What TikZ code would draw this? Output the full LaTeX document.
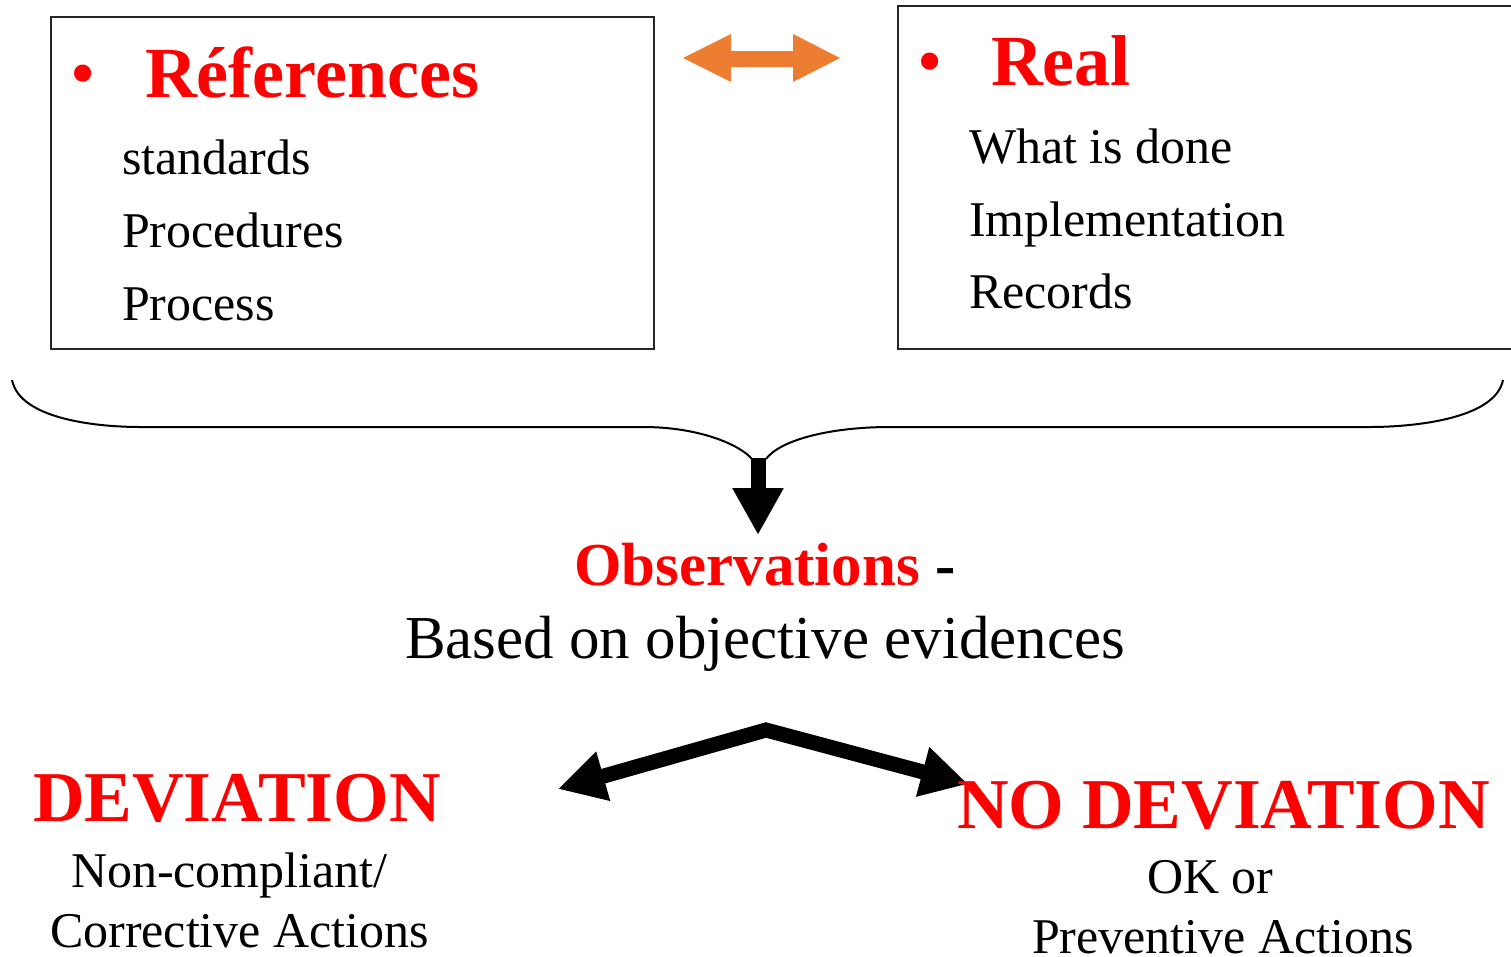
\documentclass[tikz,border=0pt]{standalone}
\usepackage{fontspec}
\setmainfont{Liberation Serif}
\usetikzlibrary{arrows.meta}
\definecolor{aorange}{HTML}{ED7D31}
\definecolor{ared}{HTML}{FF0000}
\tikzset{
  txt/.style={inner sep=0pt, outer sep=0pt, anchor=base west},
  head/.style={txt, text=ared, font=\fontsize{72}{72}\selectfont\bfseries},
  item/.style={txt, font=\fontsize{50}{50}\selectfont},
  big/.style={txt, text=ared, font=\fontsize{71.5}{71.5}\selectfont\bfseries},
  bul/.style={inner sep=0pt, outer sep=0pt, anchor=base, text=ared, font=\fontsize{72}{72}\selectfont},
  boxline/.style={draw=black!85, line width=2pt},
  thick arrow/.style={line width=15pt, line join=miter},
}
\begin{document}
\begin{tikzpicture}[x=1pt,y=-1pt]
\useasboundingbox (0,0) rectangle (1511,956);
% boxes
\draw[boxline] (51,17) rectangle (654,349);
\draw[boxline] (898,6) rectangle (1530,349);
% left box text
\node[bul] (b1) at (83,97) {•};
\node[head] (ref) at (145,97) {Réferences};
\node[item] (s1) at (122,174) {standards};
\node[item] (s2) at (122,247) {Procedures};
\node[item] (s3) at (122,320) {Process};
% right box text
\node[bul] (b2) at (930,85) {•};
\node[head] (real) at (991,85) {Real};
\node[item] (r1) at (969,163) {What is done};
\node[item] (r2) at (969,236) {Implementation};
\node[item] (r3) at (969,308) {Records};
% orange double arrow
\coordinate (oL) at (683,58);
\coordinate (oR) at (840,58);
\fill[aorange] (oL) -- (731,34) -- (731,51) -- (793,51) -- (793,34) -- (oR)
  -- (793,82) -- (793,67) -- (731,67) -- (731,82) -- cycle;
% brace
\coordinate (brL) at (12,380);
\coordinate (brR) at (1503,380);
\coordinate (brM1) at (752,459);
\coordinate (brM2) at (766,459);
\draw[line width=2pt] (brL) .. controls (20,420) and (100,427) .. (140,427)
  -- (643,427) .. controls (700,427) and (740,445) .. (brM1);
\draw[line width=2pt] (brR) .. controls (1495,420) and (1410,427) .. (1370,427)
  -- (890,427) .. controls (830,427) and (780,440) .. (brM2);
% down arrow
\coordinate (dA) at (758,458);
\coordinate (dB) at (758,535);
\draw[thick arrow, -{Triangle[length=47pt,width=48pt]}] (dA) -- (dB);
% observations
\node[inner sep=0pt, anchor=base] (obs) at (765,585)
  {\fontsize{61}{61}\selectfont\bfseries\textcolor{ared}{Observations} -};
\node[inner sep=0pt, anchor=base] (based) at (765,658)
  {\fontsize{61}{61}\selectfont Based on objective evidences};
% split arrow
\coordinate (apex) at (766,730);
\coordinate (tL) at (558,789);
\coordinate (tR) at (968,784);
\draw[thick arrow, {Triangle[length=47pt,width=48pt]}-{Triangle[length=47pt,width=48pt]}] (tL) -- (apex) -- (tR);
% bottom texts
\node[big] (dev) at (33,821) {DEVIATION};
\node[item] (d1) at (71,887) {Non-compliant/};
\node[item] (d2) at (50,947) {Corrective Actions};
\node[big] (ndev) at (957,828) {NO DEVIATION};
\node[item] (n1) at (1147,893) {OK or};
\node[item] (n2) at (1032,953) {Preventive Actions};
\end{tikzpicture}
\end{document}
